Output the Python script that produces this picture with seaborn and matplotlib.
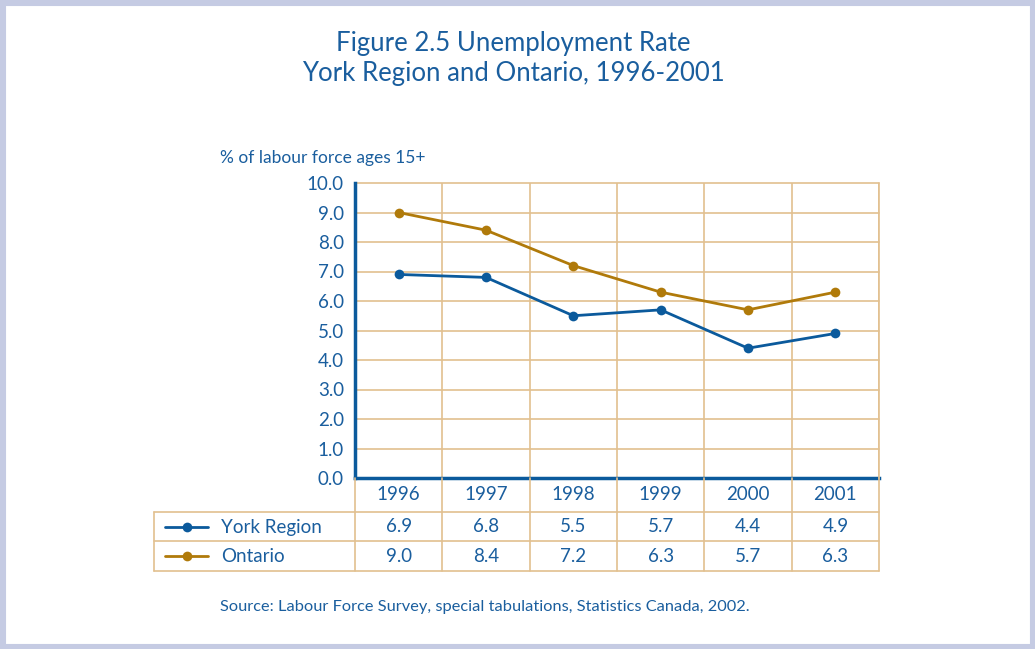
import matplotlib
matplotlib.use("Agg")
import matplotlib.pyplot as plt
import matplotlib.transforms as mtransforms
from matplotlib.lines import Line2D
from matplotlib.patches import Rectangle
import seaborn as sns
import pandas as pd
import numpy as np

years = ["1996", "1997", "1998", "1999", "2000", "2001"]
york = [6.9, 6.8, 5.5, 5.7, 4.4, 4.9]
ontario = [9.0, 8.4, 7.2, 6.3, 5.7, 6.3]
series_names = ["York Region", "Ontario"]
yticks = [0.0, 1.0, 2.0, 3.0, 4.0, 5.0, 6.0, 7.0, 8.0, 9.0, 10.0]

BLUE = "#0b5a9c"
TEXT = "#1a5e9e"
GOLD = "#b07a0a"
TAN = "#e2c08f"
BORDER = "#c5cbe3"

sns.set_style("white")
plt.rcParams["font.family"] = ["Lato", "DejaVu Sans"]

W, H = 1035, 649
fig = plt.figure(figsize=(W / 100, H / 100), dpi=100)
fig.patch.set_facecolor("white")

# lavender frame
fig.add_artist(Rectangle((0, 0), 1, 1, transform=fig.transFigure, fill=False,
                         edgecolor=BORDER, linewidth=8, zorder=0))

L, R, T, B = 355, 879, 183, 478
ax = fig.add_axes([L / W, 1 - B / H, (R - L) / W, (B - T) / H])

df = pd.DataFrame({
    "x": list(range(len(years))) * 2,
    "value": york + ontario,
    "series": [series_names[0]] * len(years) + [series_names[1]] * len(years),
})
sns.lineplot(data=df, x="x", y="value", hue="series", palette=[BLUE, GOLD],
             marker="o", markersize=7, markeredgewidth=0, linewidth=2,
             legend=False, ax=ax, zorder=5)

ax.set_xlim(-0.5, len(years) - 0.5)
ax.set_ylim(0, 10)
ax.set_xlabel("")
ax.set_ylabel("")

# grid
ax.set_yticks(yticks)
ax.set_yticklabels([f"{v:.1f}" for v in yticks], color=TEXT, fontsize=13.5)
ax.set_xticks(np.arange(-0.5, len(years), 1.0))
ax.set_xticklabels([])
for v in yticks[1:]:
    ax.axhline(v, color=TAN, linewidth=1.2, zorder=1, clip_on=False)
for b in np.arange(0.5, len(years), 1.0):
    ax.axvline(b, color=TAN, linewidth=1.2, zorder=1)

for s in ["top", "right"]:
    ax.spines[s].set_visible(False)
for s in ["left", "bottom"]:
    ax.spines[s].set_color(BLUE)
    ax.spines[s].set_linewidth(2.5)
    ax.spines[s].set_zorder(6)
ax.tick_params(axis="y", direction="in", length=8, width=2.5, color=BLUE, pad=8)
ax.tick_params(axis="x", direction="in", length=5, width=2.5, color=BLUE)

# table below axes
trans = mtransforms.blended_transform_factory(ax.transData, fig.transFigure)
yf = lambda p: 1 - p / H
xleft_tab = ax.transData.inverted().transform((154, 0))[0]
for b in np.arange(-0.5, len(years), 1.0):
    fig.add_artist(Line2D([b, b], [yf(B), yf(571)], transform=trans, color=TAN, linewidth=1.2, zorder=1))
fig.add_artist(Line2D([len(years) - 0.5] * 2, [yf(T), yf(B)], transform=trans, color=TAN, linewidth=1.2, zorder=1))
fig.add_artist(Line2D([xleft_tab] * 2, [yf(512), yf(571)], transform=trans, color=TAN, linewidth=1.2))
for p in [512, 541, 571]:
    fig.add_artist(Line2D([xleft_tab, len(years) - 0.5], [yf(p), yf(p)], transform=trans, color=TAN, linewidth=1.2))

# year labels
for i, yr in enumerate(years):
    fig.text(i, yf(495), yr, transform=trans, ha="center", va="center", color=TEXT, fontsize=13.5)

# rows
for vals, name, col, ycen in [(york, series_names[0], BLUE, 527), (ontario, series_names[1], GOLD, 556)]:
    fig.add_artist(Line2D([165 / W, 208 / W], [yf(ycen), yf(ycen)], transform=fig.transFigure,
                          color=col, linewidth=2, zorder=3))
    fig.add_artist(Line2D([186.5 / W], [yf(ycen)], transform=fig.transFigure,
                          color=col, marker="o", markersize=7, markeredgewidth=0, linestyle="none"))
    fig.text(221 / W, yf(ycen), name, ha="left", va="center", color=TEXT, fontsize=13.5)
    for i, v in enumerate(vals):
        fig.text(i, yf(ycen), f"{v:.1f}", transform=trans, ha="center", va="center", color=TEXT, fontsize=13.5)

fig.text(513 / W, yf(43), "Figure 2.5 Unemployment Rate", ha="center", va="center", color=TEXT, fontsize=18.5)
fig.text(513 / W, yf(74), "York Region and Ontario, 1996-2001", ha="center", va="center", color=TEXT, fontsize=18.5)
fig.text(220 / W, yf(158), "% of labour force ages 15+", ha="left", va="center", color=TEXT, fontsize=12.5)
fig.text(220 / W, yf(607), "Source: Labour Force Survey, special tabulations, Statistics Canada, 2002.",
         ha="left", va="center", color=TEXT, fontsize=11.8)

fig.savefig("out.png", dpi=100, facecolor="white")
